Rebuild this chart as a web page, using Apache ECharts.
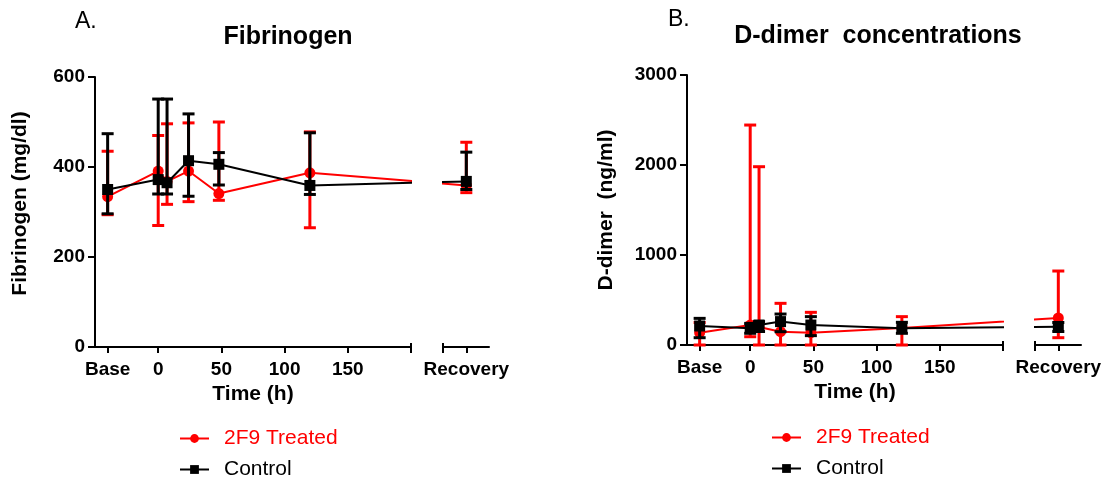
<!DOCTYPE html>
<html>
<head>
<meta charset="utf-8">
<script src="https://cdn.jsdelivr.net/npm/echarts@6/dist/echarts.min.js"></script>
<style>
  html, body { margin: 0; padding: 0; background: #fff; }
  #chart { width: 1106px; height: 481px; }
</style>
</head>
<body>
<div id="chart"></div>
<script>

// time points (Base and Recovery sit on the axis beside the hour scale)
const timeLabels = ['Base', '0', '7', '24', '48', '120', 'Recovery'];
const timeHours = [-40, 0, 7, 24, 48, 120, 243.5];

// A. Fibrinogen (mg/dl)
const fibTreated = [334, 391, 368, 391, 341, 387, 359];
const fibTreatedLow = [294, 270, 317, 323, 326, 265, 343];
const fibTreatedHigh = [435, 470, 496, 498, 500, 478, 455];
const fibControl = [350, 372, 365, 414, 406, 359, 368];
const fibControlLow = [296, 340, 340, 335, 360, 339, 350];
const fibControlHigh = [474, 551, 551, 518, 432, 476, 433];

// B. D-dimer (ng/ml)
const ddTreated = [137, 222, 200, 148, 137, 190, 300];
const ddTreatedLow = [0, 92, 0, 0, 0, 0, 81];
const ddTreatedHigh = [250, 2444, 1981, 463, 363, 315, 822];
const ddControl = [211, 185, 222, 260, 222, 185, 204];
const ddControlLow = [81, 130, 150, 148, 104, 130, 150];
const ddControlHigh = [296, 240, 260, 344, 315, 252, 250];

const hourTicks = [-40, 0, 50, 100, 150];
const fibTicks = [0, 200, 400, 600];
const ddTicks = [0, 1000, 2000, 3000];

const RED = '#ff0000';
const BLACK = '#000000';
const FONT = '"Liberation Sans", Arial, sans-serif';

const labelFor = v => {
    const i = timeHours.indexOf(v);
    return (i === 0 || i === timeHours.length - 1) ? timeLabels[i] : String(v);
};

function points(values) {
    return timeHours.map((t, i) => [t, values[i]]);
}

function errorBars(lows, highs, keep) {
    return timeHours.map((t, i) => [t, lows[i], highs[i]]).filter(d => keep(d[0]));
}

function renderErrorBar(params, api) {
    const x = api.value(0);
    const top = api.coord([x, api.value(2)]);
    const bot = api.coord([x, api.value(1)]);
    const half = 6;
    const style = { stroke: api.visual('color'), lineWidth: 3 };
    return {
        type: 'group',
        children: [
            { type: 'line', shape: { x1: top[0], y1: top[1], x2: bot[0], y2: bot[1] }, style },
            { type: 'line', shape: { x1: top[0] - half, y1: top[1], x2: top[0] + half, y2: top[1] }, style },
            { type: 'line', shape: { x1: bot[0] - half, y1: bot[1], x2: bot[0] + half, y2: bot[1] }, style }
        ]
    };
}

const axisLine = { show: true, onZero: false, lineStyle: { color: BLACK, width: 2 } };
const tickLabel = { color: BLACK, fontWeight: 'bold', fontSize: 19, fontFamily: FONT };
const nameStyle = { color: BLACK, fontWeight: 'bold', fontSize: 21, fontFamily: FONT };

function xAxesFor(grid, xNamePad) {
    return [
        {
            type: 'value', gridIndex: grid, min: -50, max: 200, position: 'bottom',
            axisLine,
            axisTick: { show: true, customValues: hourTicks.concat([200]), length: 6, lineStyle: { color: BLACK, width: 2 } },
            axisLabel: Object.assign({ customValues: hourTicks, formatter: labelFor, margin: 13 }, tickLabel),
            splitLine: { show: false },
            name: 'Time (h)', nameLocation: 'middle', nameGap: 36,
            nameTextStyle: Object.assign({ padding: xNamePad }, nameStyle)
        },
        {
            // break mark at the end of the hour scale
            type: 'value', gridIndex: grid, min: -50, max: 200, position: 'bottom',
            axisLine: { show: false },
            axisTick: { show: true, inside: true, customValues: [200], length: 4, lineStyle: { color: BLACK, width: 2 } },
            axisLabel: { show: false },
            splitLine: { show: false }
        },
        {
            type: 'value', gridIndex: grid + 1, min: 225, max: 261.5, position: 'bottom',
            axisLine,
            axisTick: { show: true, customValues: [225, timeHours[6]], length: 6, lineStyle: { color: BLACK, width: 2 } },
            axisLabel: Object.assign({ customValues: [timeHours[6]], formatter: labelFor, margin: 13 }, tickLabel),
            splitLine: { show: false }
        },
        {
            type: 'value', gridIndex: grid + 1, min: 225, max: 261.5, position: 'bottom',
            axisLine: { show: false },
            axisTick: { show: true, inside: true, customValues: [225], length: 4, lineStyle: { color: BLACK, width: 2 } },
            axisLabel: { show: false },
            splitLine: { show: false }
        }
    ];
}

function yAxesFor(grid, ticks, name, gap, namePad) {
    return [
        {
            type: 'value', gridIndex: grid, min: ticks[0], max: ticks[ticks.length - 1],
            interval: ticks[1] - ticks[0],
            axisLine,
            axisTick: { show: true, length: 7, lineStyle: { color: BLACK, width: 2 } },
            axisLabel: Object.assign({ margin: 10, formatter: v => String(v) }, tickLabel),
            splitLine: { show: false },
            name, nameLocation: 'middle', nameRotate: 90, nameGap: gap,
            nameTextStyle: Object.assign({ padding: namePad }, nameStyle)
        },
        { type: 'value', gridIndex: grid + 1, min: ticks[0], max: ticks[ticks.length - 1], show: false }
    ];
}

function seriesFor(xBase, yBase, groups) {
    const out = [];
    groups.forEach((g, k) => {
        out.push({
            name: g.name + ' error', type: 'custom', xAxisIndex: xBase, yAxisIndex: yBase,
            renderItem: renderErrorBar, itemStyle: { color: g.color }, z: 2 + 2 * k, silent: true,
            encode: { x: 0, y: [1, 2] },
            data: errorBars(g.low, g.high, t => t <= 200)
        });
        out.push({
            name: g.name + ' error', type: 'custom', xAxisIndex: xBase + 2, yAxisIndex: yBase + 1,
            renderItem: renderErrorBar, itemStyle: { color: g.color }, z: 2 + 2 * k, silent: true,
            encode: { x: 0, y: [1, 2] },
            data: errorBars(g.low, g.high, t => t > 200)
        });
        [0, 1].forEach(part => {
            out.push({
                name: g.name, type: 'line', xAxisIndex: xBase + 2 * part, yAxisIndex: yBase + part,
                data: points(g.mean), clip: true,
                symbol: g.symbol, symbolSize: 11, showSymbol: true,
                lineStyle: { color: g.color, width: 2 }, itemStyle: { color: g.color },
                z: 3 + 2 * k, emphasis: { disabled: true }, silent: true
            });
        });
    });
    return out;
}

function legendAt(left, top) {
    return {
        orient: 'vertical', left, top, padding: 0, itemGap: 10,
        itemWidth: 29, itemHeight: 11, selectedMode: false,
        textStyle: { fontSize: 21, fontFamily: FONT, padding: [0, 0, 0, 10] },
        data: [
            { name: '2F9 Treated', textStyle: { color: RED } },
            { name: 'Control', textStyle: { color: BLACK } }
        ]
    };
}

function titleText(text, x, y, size, weight, align) {
    return {
        type: 'text', x, y,
        style: {
            text, fill: BLACK, font: weight + ' ' + size + 'px ' + FONT,
            textAlign: align, align, textVerticalAlign: 'middle', verticalAlign: 'middle'
        }
    };
}

const chart = echarts.init(document.getElementById('chart'));

const option = {
    animation: false,
    backgroundColor: '#ffffff',
    grid: [
        { left: 95, top: 77, width: 316, height: 270 },
        { left: 443, top: 77, width: 46, height: 270 },
        { left: 687, top: 75, width: 316, height: 270 },
        { left: 1035, top: 75, width: 46, height: 270 }
    ],
    xAxis: xAxesFor(0, [0, 0, 0, 0]).concat(xAxesFor(2, [0, 0, 0, 20])),
    yAxis: yAxesFor(0, fibTicks, 'Fibrinogen (mg/dl)', 64, [0, 0, 0, 17])
        .concat(yAxesFor(2, ddTicks, 'D-dimer  (ng/ml)', 70, [0, 0, 0, 0])),
    legend: [legendAt(179, 428), legendAt(771, 427)],
    graphic: [
        titleText('A.', 75, 22, 23, 'normal', 'left'),
        titleText('Fibrinogen', 288, 37, 25, 'bold', 'center'),
        titleText('B.', 668, 20, 23, 'normal', 'left'),
        titleText('D-dimer  concentrations', 878, 36, 25, 'bold', 'center')
    ],
    series: seriesFor(0, 0, [
        { name: '2F9 Treated', color: RED, symbol: 'circle', mean: fibTreated, low: fibTreatedLow, high: fibTreatedHigh },
        { name: 'Control', color: BLACK, symbol: 'rect', mean: fibControl, low: fibControlLow, high: fibControlHigh }
    ]).concat(seriesFor(4, 2, [
        { name: '2F9 Treated', color: RED, symbol: 'circle', mean: ddTreated, low: ddTreatedLow, high: ddTreatedHigh },
        { name: 'Control', color: BLACK, symbol: 'rect', mean: ddControl, low: ddControlLow, high: ddControlHigh }
    ]))
};

option && chart.setOption(option);

</script>
</body>
</html>
